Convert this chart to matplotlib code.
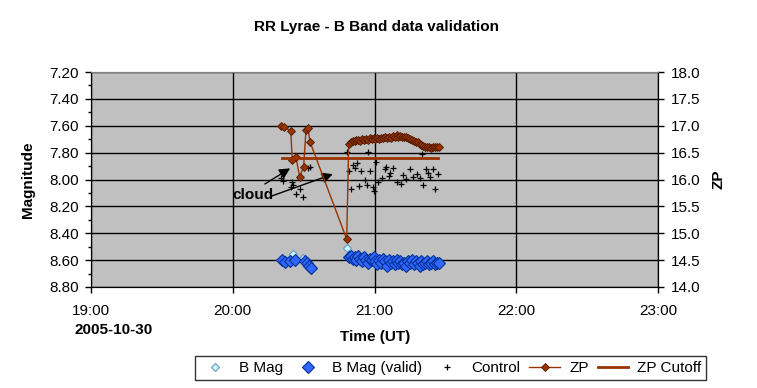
import matplotlib.pyplot as plt
import numpy as np
from matplotlib.ticker import MultipleLocator

plt.rcParams['font.family'] = ['Liberation Sans', 'DejaVu Sans']

# --- data (time in decimal hours UT) ---
zp_t = [20.340, 20.364, 20.409, 20.420, 20.446, 20.472, 20.500, 20.517, 20.531, 20.545, 20.804,
        20.818, 20.832, 20.845, 20.859, 20.872, 20.886, 20.899, 20.913, 20.926, 20.940,
        20.953, 20.967, 20.980, 20.994, 21.007, 21.021, 21.034, 21.048, 21.061, 21.075,
        21.088, 21.102, 21.115, 21.129, 21.142, 21.156, 21.169, 21.183, 21.196, 21.210,
        21.223, 21.237, 21.250, 21.264, 21.277, 21.291, 21.304, 21.318, 21.331, 21.345,
        21.358, 21.372, 21.385, 21.399, 21.412, 21.426, 21.439, 21.452]
zp = [17.00, 16.97, 16.91, 16.36, 16.42, 16.05, 16.24, 16.93, 16.95, 16.70, 14.89,
      16.66, 16.70, 16.72, 16.71, 16.73, 16.74, 16.72, 16.75, 16.74, 16.76,
      16.74, 16.77, 16.75, 16.77, 16.76, 16.78, 16.76, 16.78, 16.77, 16.79,
      16.78, 16.80, 16.78, 16.81, 16.79, 16.82, 16.80, 16.81, 16.80, 16.80,
      16.79, 16.77, 16.76, 16.73, 16.72, 16.70, 16.69, 16.66, 16.64, 16.63,
      16.61, 16.60, 16.60, 16.59, 16.60, 16.60, 16.61, 16.60]

zp_cut_t = [20.35, 21.45]
zp_cut = [16.40, 16.40]

bmag_t = [20.423, 20.494, 20.804]
bmag = [8.557, 8.586, 8.507]

valid_t = [20.345, 20.369, 20.404, 20.439, 20.510, 20.526, 20.540, 20.550,
           20.818, 20.832, 20.845, 20.859, 20.872, 20.886, 20.899, 20.913, 20.926, 20.940,
           20.953, 20.967, 20.980, 20.994, 21.007, 21.021, 21.034, 21.048, 21.061, 21.075,
           21.088, 21.102, 21.115, 21.129, 21.142, 21.156, 21.169, 21.183, 21.196, 21.210,
           21.223, 21.237, 21.250, 21.264, 21.277, 21.291, 21.304, 21.318, 21.331, 21.345,
           21.358, 21.372, 21.385, 21.399, 21.412, 21.426, 21.439, 21.452]
valid = [8.599, 8.612, 8.607, 8.599, 8.607, 8.624, 8.641, 8.656,
         8.58, 8.57, 8.59, 8.58, 8.60, 8.57, 8.59, 8.61, 8.58, 8.60,
         8.62, 8.59, 8.60, 8.58, 8.61, 8.63, 8.60, 8.62, 8.59, 8.61,
         8.64, 8.60, 8.62, 8.61, 8.63, 8.60, 8.62, 8.61, 8.63, 8.62,
         8.64, 8.61, 8.62, 8.60, 8.63, 8.61, 8.62, 8.64, 8.61, 8.63,
         8.62, 8.61, 8.63, 8.62, 8.61, 8.63, 8.62, 8.62]

ctrl_t = [20.338, 20.357, 20.416, 20.427, 20.409, 20.474, 20.446, 20.498, 20.533, 20.545,
          20.808, 20.956, 21.333, 21.011, 20.850, 20.879, 20.862, 20.822, 20.907, 20.968,
          21.079, 21.133, 21.109, 21.074, 21.250, 21.363, 21.415, 21.380, 21.450, 20.931,
          20.945, 20.893, 20.836, 20.987, 20.999, 21.023, 21.051, 21.104, 21.157, 21.187,
          21.203, 21.222, 21.274, 21.298, 21.321, 21.344, 21.392, 21.429]
ctrl = [7.991, 8.009, 8.016, 8.041, 8.053, 8.073, 8.108, 8.128, 7.917, 7.909,
        7.793, 7.793, 7.812, 7.872, 7.892, 7.879, 7.917, 7.934, 7.937, 7.934,
        7.909, 7.917, 7.954, 7.924, 7.920, 7.924, 7.924, 7.949, 7.959, 8.004,
        8.041, 8.048, 8.073, 8.054, 8.083, 8.016, 7.991, 7.972, 8.016, 8.033,
        7.967, 7.999, 7.979, 7.961, 7.991, 8.041, 7.979, 8.073]

hour_ticks = [19, 20, 21, 22, 23]
hour_labels = ["19:00", "20:00", "21:00", "22:00", "23:00"]

brown = "#993300"

fig = plt.figure(figsize=(7.57, 3.88), dpi=100)
ax = fig.add_axes([91/757, 1-287/388, 567/757, 215/388])
ax.set_facecolor("#C0C0C0")
ax2 = ax.twinx()

ax.set_xlim(19, 23)
ax.set_ylim(8.8, 7.2)
ax2.set_ylim(14, 18)

ax.set_xticks(hour_ticks)
ax.set_xticklabels(hour_labels)
ax.yaxis.set_major_locator(MultipleLocator(0.2))
ax.yaxis.set_minor_locator(MultipleLocator(0.1))
ax.yaxis.set_major_formatter(plt.FuncFormatter(lambda v, p: "%.2f" % v))
ax2.yaxis.set_major_locator(MultipleLocator(0.5))
ax2.yaxis.set_major_formatter(plt.FuncFormatter(lambda v, p: "%.1f" % v))

ax.grid(True, which='major', color='black', linewidth=1.0)
ax.set_axisbelow(True)

fs = 11
ax.tick_params(axis='x', direction='out', length=4, width=1, pad=8, labelsize=fs)
ax.tick_params(axis='y', which='major', direction='out', length=4, width=1, pad=5, labelsize=fs)
ax.tick_params(axis='y', which='minor', direction='out', length=2.5, width=1)
ax2.tick_params(axis='y', direction='out', length=4, width=1, pad=5, labelsize=fs)

ax.spines['top'].set_color('#808080')
ax2.spines['top'].set_color('#808080')

h1, = ax.plot(bmag_t, bmag, linestyle='none', marker='D', markersize=4,
              markerfacecolor='#CCFFFF', markeredgecolor='#6699CC', markeredgewidth=0.8, label='B Mag')
h2, = ax.plot(valid_t, valid, linestyle='none', marker='D', markersize=6.2,
              markerfacecolor='#3366FF', markeredgecolor='#003399', markeredgewidth=0.8, label='B Mag (valid)')
h3, = ax.plot(ctrl_t, ctrl, linestyle='none', marker='+', markersize=5,
              color='black', markeredgewidth=0.9, label='Control')
h4, = ax2.plot(zp_t, zp, color=brown, linewidth=1.0, marker='D', markersize=4.3,
               markerfacecolor=brown, markeredgecolor='#4D1A00', markeredgewidth=0.6, label='ZP')
h5, = ax2.plot(zp_cut_t, zp_cut, color=brown, linewidth=2.0, label='ZP Cutoff')

# cloud annotation: text plus two arrows
ax.text(20.143, 8.115, "cloud", fontsize=fs, fontweight='bold', ha='center', va='center')
ax.annotate("", xy=(20.405, 7.917), xytext=(20.227, 8.033),
            arrowprops=dict(arrowstyle='-|>', color='black', lw=1.0, mutation_scale=16,
                            shrinkA=0, shrinkB=0))
ax.annotate("", xy=(20.706, 7.960), xytext=(20.277, 8.122),
            arrowprops=dict(arrowstyle='-|>', color='black', lw=1.0, mutation_scale=16,
                            shrinkA=0, shrinkB=0))

fig.text(377/757, 1-26.5/388, "RR Lyrae - B Band data validation", ha='center', va='center',
         fontsize=fs, fontweight='bold')
fig.text(114/757, 1-330/388, "2005-10-30", ha='center', va='center', fontsize=fs, fontweight='bold')
fig.text(375/757, 1-337/388, "Time (UT)", ha='center', va='center', fontsize=fs, fontweight='bold')
ax.set_ylabel("Magnitude", fontsize=fs, fontweight='bold')
ax.yaxis.set_label_coords(-0.099, 0.5)
ax2.set_ylabel("ZP", fontsize=fs, fontweight='bold')
ax2.yaxis.set_label_coords(1.095, 0.5)

leg = fig.legend(handles=[h1, h2, h3, h4, h5], loc='center', bbox_to_anchor=(450.5/757, 1-368/388),
                 ncol=5, fontsize=fs, frameon=True, fancybox=False, handlelength=2.0,
                 columnspacing=0.6, handletextpad=0.6, borderpad=0.3, borderaxespad=0)
leg.get_frame().set_edgecolor('black')
leg.get_frame().set_linewidth(1.0)

fig.savefig("out.png", dpi=100)
